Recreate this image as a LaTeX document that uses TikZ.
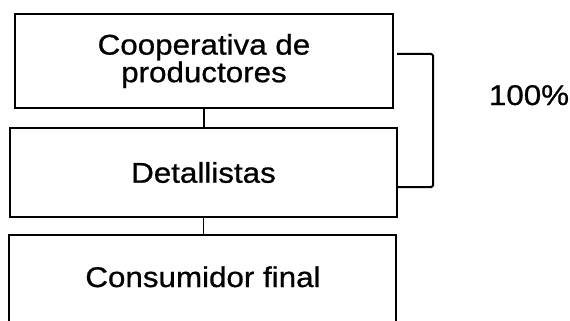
\documentclass[tikz,border=0pt]{standalone}
\usepackage{fontspec}
\setmainfont{Liberation Sans}[FakeStretch=1.1,FakeBold=0.8]
\begin{document}
\begin{tikzpicture}[x=1pt,y=-1pt,
  box/.style={draw,line width=2.4pt,rectangle,inner sep=0pt,align=center,
    font=\fontsize{28.5}{25}\selectfont},
  lbl/.style={inner sep=0pt,font=\fontsize{28.5}{25}\selectfont},
  conn/.style={line width=1.6pt},
  brk/.style={line width=2pt,rounded corners=1.5pt}]
\useasboundingbox (0,0) rectangle (570,321);
\node[box,minimum width=378,minimum height=94] (b1) at (204,61) {Cooperativa de\\productores};
\node[box,minimum width=387,minimum height=89] (b2) at (203.5,172.5) {Detallistas};
\node[box,minimum width=387,minimum height=110] (b3) at (202.5,290) {};
\node[lbl,anchor=base] (t3) at (203,287) {Consumidor final};
\node[lbl,anchor=base] (pct) at (529,105) {100\%};
\draw[conn] (b1.south) -- (b1.south |- b2.north);
\draw[conn] (b2.south) -- (b2.south |- b3.north);
\coordinate (bt) at (397,54);
\draw[brk] (bt) -- (433,54) -- (433,187) -- (b2.east |- 0,187);
\end{tikzpicture}
\end{document}
